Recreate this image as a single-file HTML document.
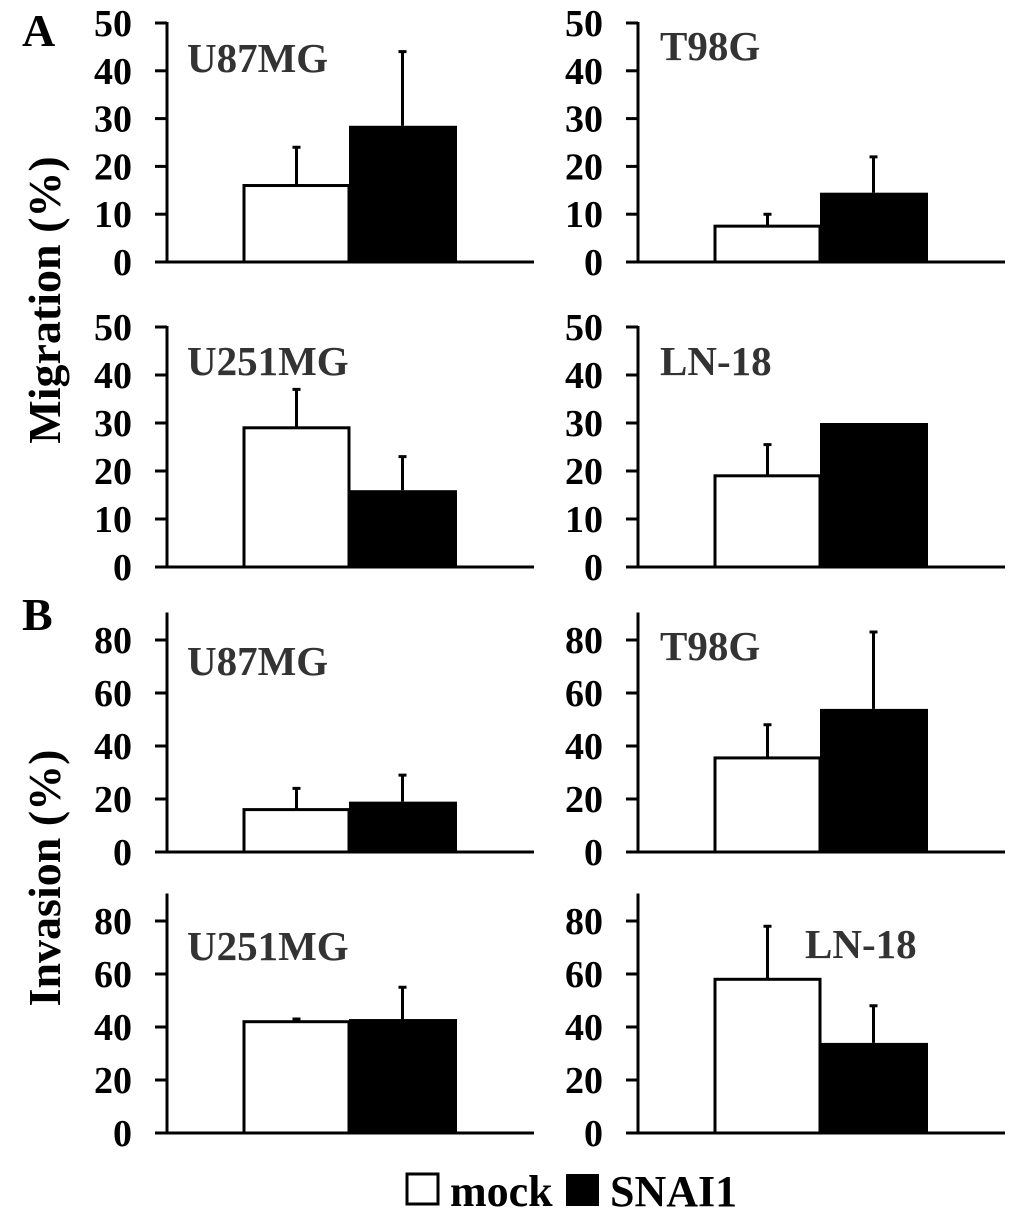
<!DOCTYPE html>
<html><head><meta charset="utf-8"><style>
html,body{margin:0;padding:0;background:#fff;}
svg{display:block;font-family:"Liberation Serif",serif;font-weight:bold;}
</style></head><body>
<svg id="fig" width="1033" height="1213" viewBox="0 0 1033 1213" xmlns="http://www.w3.org/2000/svg">
<text x="22" y="46" font-size="46">A</text>
<text x="22" y="630" font-size="46">B</text>
<text transform="translate(60,300) rotate(-90)" text-anchor="middle" font-size="46">Migration (%)</text>
<text transform="translate(60,878) rotate(-90)" text-anchor="middle" font-size="46">Invasion (%)</text>
<rect x="407" y="1174" width="31" height="30" fill="#fff" stroke="#000" stroke-width="3"/>
<text x="450" y="1206" font-size="44">mock</text>
<rect x="566" y="1174" width="33" height="32" fill="#000"/>
<text x="610" y="1206" font-size="44">SNAI1</text>
</svg>
<script>
const cellLines = ["U87MG","T98G","U251MG","LN-18","U87MG","T98G","U251MG","LN-18"];
const mockValues = [16, 7.5, 29, 19, 16, 35.5, 42, 58];
const mockErrors = [8, 2.5, 8, 6.5, 8, 12.5, 1, 20];
const snaiValues = [28.5, 14.5, 16, 30, 19, 54, 43, 34];
const snaiErrors = [15.5, 7.5, 7, 0, 10, 29, 12, 14];
const migrationTicks = [0,10,20,30,40,50];
const invasionTicks = [0,20,40,60,80];

const svg = document.getElementById('fig');
const NS = 'http://www.w3.org/2000/svg';
function mk(tag, attrs){const e=document.createElementNS(NS,tag);for(const k in attrs)e.setAttribute(k,attrs[k]);svg.appendChild(e);return e;}

const panels = [
 {ax:167, y0:262, ytop:23, max:50, top:50, ticks:migrationTicks, lx:187, ly:72},
 {ax:638, y0:262, ytop:23, max:50, top:50, ticks:migrationTicks, lx:660, ly:60},
 {ax:167, y0:567, ytop:327, max:50, top:50, ticks:migrationTicks, lx:187, ly:375},
 {ax:638, y0:567, ytop:327, max:50, top:50, ticks:migrationTicks, lx:660, ly:375},
 {ax:167, y0:852, ytop:640, max:80, top:90, ticks:invasionTicks, lx:187, ly:675},
 {ax:638, y0:852, ytop:640, max:80, top:90, ticks:invasionTicks, lx:660, ly:660},
 {ax:167, y0:1133, ytop:921, max:80, top:90, ticks:invasionTicks, lx:187, ly:960},
 {ax:638, y0:1133, ytop:921, max:80, top:90, ticks:invasionTicks, lx:805, ly:958}
];

panels.forEach((p,i)=>{
  const y = v => p.y0 - (p.y0 - p.ytop) * v / p.max;
  const bx = p.ax + 77;
  const bw = 105;
  let r = mk('rect',{x:bx, y:y(mockValues[i]), width:bw, height:p.y0-y(mockValues[i]), fill:'#fff', stroke:'#000','stroke-width':3});
  
  
  let e1 = mk('path',{d:`M${bx+bw/2} ${y(mockValues[i])} V${y(mockValues[i]+mockErrors[i])} M${bx+bw/2-4} ${y(mockValues[i]+mockErrors[i])} H${bx+bw/2+4}`, stroke:'#000','stroke-width':3, fill:'none'});
  
  
  let b = mk('rect',{x:bx+bw, y:y(snaiValues[i]), width:bw+3, height:p.y0-y(snaiValues[i]), fill:'#000'});
  
  
  if (snaiErrors[i] > 0) {
    let e2 = mk('path',{d:`M${bx+bw*1.5+1} ${y(snaiValues[i])} V${y(snaiValues[i]+snaiErrors[i])} M${bx+bw*1.5-3} ${y(snaiValues[i]+snaiErrors[i])} H${bx+bw*1.5+5}`, stroke:'#000','stroke-width':3, fill:'none'});
    
    
  }
  let ya = mk('line',{x1:p.ax, x2:p.ax, y1:y(p.top)-1, y2:p.y0, stroke:'#000','stroke-width':3});
  
  
  let xa = mk('line',{x1:p.ax-12, x2:p.ax+367, y1:p.y0, y2:p.y0, stroke:'#000','stroke-width':3});
  
  
  p.ticks.forEach(t=>{
    let tl = mk('line',{x1:p.ax-12, x2:p.ax, y1:y(t), y2:y(t), stroke:'#000','stroke-width':3});
    
    
    let tx = mk('text',{x:p.ax-35, y:y(t)+13, 'text-anchor':'end','font-size':38});
    tx.textContent = t;
    
    
  });
  let lab = mk('text',{x:p.lx, y:p.ly, 'font-size':41, fill:'#333'});
  lab.textContent = cellLines[i];
  
  
});
</script>
</body></html>
